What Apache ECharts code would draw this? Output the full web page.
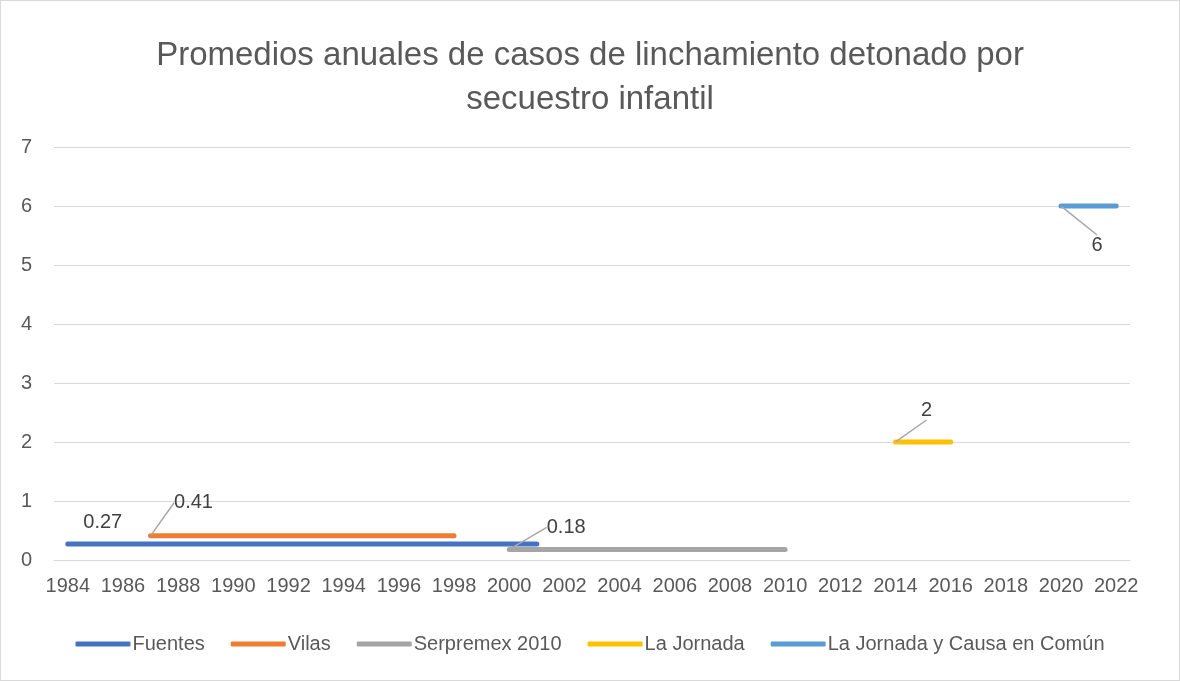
<!DOCTYPE html>
<html>
<head>
<meta charset="utf-8">
<script src="https://cdn.jsdelivr.net/npm/echarts@6/dist/echarts.min.js"></script>
<style>
  html, body { margin: 0; padding: 0; background: #fff; }
  #main { width: 1178px; height: 679px; border: 1px solid #d9d9d9; }
</style>
</head>
<body>
<div id="main"></div>
<script>
// años del eje x
var years = ["1984","1985","1986","1987","1988","1989","1990","1991","1992","1993",
  "1994","1995","1996","1997","1998","1999","2000","2001","2002","2003","2004","2005",
  "2006","2007","2008","2009","2010","2011","2012","2013","2014","2015","2016","2017",
  "2018","2019","2020","2021","2022"];

// cada fuente: periodo (inicio, fin) y promedio anual
var fuentesYears = ["1984", "2001"];
var fuentesValue = 0.27;
var vilasYears = ["1987", "1998"];
var vilasValue = 0.41;
var serpremexYears = ["2000", "2010"];
var serpremexValue = 0.18;
var jornadaYears = ["2014", "2016"];
var jornadaValue = 2;
var causaYears = ["2020", "2022"];
var causaValue = 6;

var seriesNames = ["Fuentes", "Vilas", "Serpremex 2010", "La Jornada", "La Jornada y Causa en Común"];
var colors = ["#4472C4", "#ED7D31", "#A5A5A5", "#FFC000", "#5B9BD5"];
var yTicks = [0, 1, 2, 3, 4, 5, 6, 7];

var font = "'Liberation Sans', sans-serif";
var textColor = "#595959";

function makeSeries(name, yrs, value, color, dx, dy, line) {
  return {
    name: name,
    type: "line",
    symbol: "circle",
    symbolSize: 1,
    showSymbol: true,
    lineStyle: { width: 5, color: color, cap: "round" },
    itemStyle: { color: color },
    data: [
      { value: [yrs[0], value], label: { show: true } },
      { value: [yrs[1], value], label: { show: false } },
    ],
    label: {
      position: "right",
      color: "#404040",
      fontSize: 20,
      fontFamily: font,
      formatter: function (p) { return String(p.value[1]); },
    },
    // etiqueta desplazada con línea guía en codo (como en Excel)
    labelLayout: function (params) {
      var r = params.rect;
      var lr = params.labelRect;
      var ax = r.x + r.width / 2;
      var ay = r.y + r.height / 2;
      var lx = lr.x + dx;
      var ly = lr.y + dy + lr.height / 2;
      var out = { dx: dx, dy: dy };
      if (line) {
        out.labelLinePoints = [[ax, ay], [ax + 6, ly], [lx - 5, ly]];
      }
      return out;
    },
    labelLine: {
      show: line,
      smooth: false,
      lineStyle: { color: "#a6a6a6", width: 1.5 },
    },
    emphasis: { disabled: true },
  };
}

var chart = echarts.init(document.getElementById("main"));
chart.setOption({
  animation: false,
  color: colors,
  title: {
    text: "Promedios anuales de casos de linchamiento detonado por\nsecuestro infantil",
    left: "center",
    top: 28,
    textStyle: {
      color: textColor,
      fontSize: 33,
      fontWeight: "normal",
      fontFamily: font,
      lineHeight: 44,
    },
  },
  legend: {
    bottom: 21,
    left: "center",
    itemWidth: 55,
    itemHeight: 5,
    itemGap: 26,
    icon: "roundRect",
    textStyle: { color: textColor, fontSize: 20, fontFamily: font, padding: [0, 0, 0, -3] },
    data: seriesNames,
  },
  grid: { left: 53, right: 49, top: 146, bottom: 120, containLabel: false },
  xAxis: {
    type: "category",
    data: years,
    boundaryGap: true,
    axisLine: { show: true, lineStyle: { color: "#d9d9d9" } },
    axisTick: { show: false },
    axisLabel: {
      interval: 1,
      color: textColor,
      fontSize: 20,
      fontFamily: font,
      margin: 16,
    },
  },
  yAxis: {
    type: "value",
    min: yTicks[0],
    max: yTicks[yTicks.length - 1],
    interval: 1,
    axisLine: { show: false },
    axisTick: { show: false },
    splitLine: { lineStyle: { color: "#d9d9d9", width: 1 } },
    axisLabel: { color: textColor, fontSize: 20, fontFamily: font, margin: 22 },
  },
  series: [
    makeSeries(seriesNames[0], fuentesYears, fuentesValue, colors[0], 10, -22, false),
    makeSeries(seriesNames[1], vilasYears, vilasValue, colors[1], 18, -33, true),
    makeSeries(seriesNames[2], serpremexYears, serpremexValue, colors[2], 32, -22, true),
    makeSeries(seriesNames[3], jornadaYears, jornadaValue, colors[3], 20, -32, true),
    makeSeries(seriesNames[4], causaYears, causaValue, colors[4], 25, 39, true),
  ],
});
</script>
</body>
</html>
